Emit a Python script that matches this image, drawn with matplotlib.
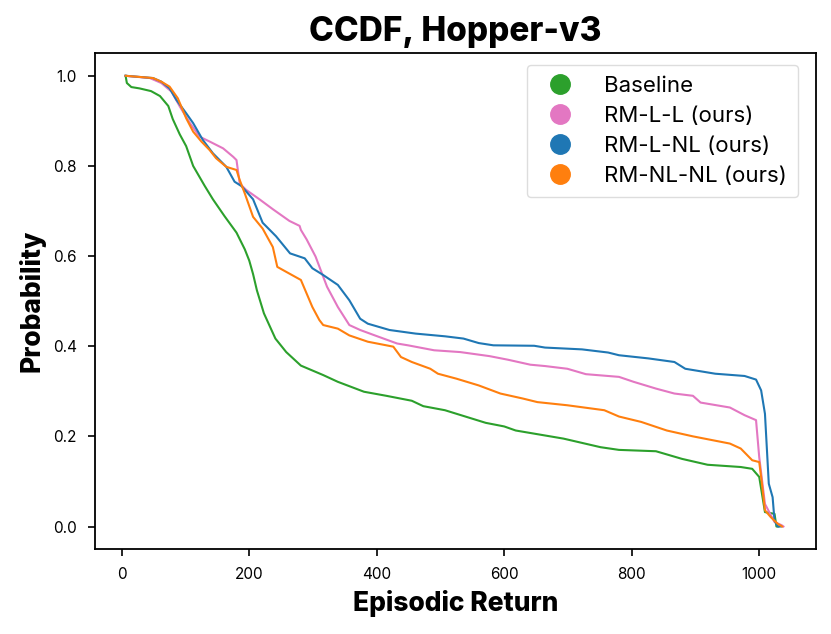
import matplotlib
matplotlib.use('Agg')
import matplotlib.pyplot as plt
from matplotlib.lines import Line2D

# CCDF points (episodic return, probability)
base_x = [6, 8, 15, 28, 46, 60, 73, 80, 91, 101, 112, 130, 143, 161, 180, 193, 200, 206,
          212, 223, 241, 258, 281, 316, 339, 380, 415, 455, 473, 507, 571, 600, 618, 693,
          751, 780, 838, 879, 919, 971, 989, 1000, 1009, 1024, 1027, 1030]
base_y = [1.0, 0.984, 0.975, 0.972, 0.966, 0.955, 0.933, 0.904, 0.87, 0.844, 0.8, 0.756,
          0.726, 0.689, 0.652, 0.615, 0.59, 0.56, 0.524, 0.473, 0.417, 0.387, 0.357, 0.336,
          0.321, 0.299, 0.29, 0.279, 0.267, 0.258, 0.23, 0.222, 0.213, 0.195, 0.176, 0.17,
          0.167, 0.15, 0.137, 0.132, 0.128, 0.11, 0.032, 0.028, 0.0, 0.0]

rmll_x = [6, 44, 62, 78, 91, 107, 122, 138, 159, 175, 180, 185, 195, 216, 237, 263, 279,
          281, 290, 304, 322, 339, 357, 374, 397, 432, 449, 490, 531, 577, 606, 641, 664,
          699, 728, 780, 803, 838, 867, 896, 908, 954, 977, 995, 1000, 1009, 1024, 1035, 1038]
rmll_y = [1.0, 0.995, 0.984, 0.965, 0.932, 0.895, 0.865, 0.854, 0.839, 0.82, 0.813, 0.761,
          0.747, 0.726, 0.704, 0.678, 0.667, 0.658, 0.637, 0.599, 0.532, 0.487, 0.447,
          0.436, 0.424, 0.406, 0.402, 0.391, 0.387, 0.378, 0.37, 0.359, 0.356, 0.35, 0.338,
          0.332, 0.321, 0.306, 0.295, 0.29, 0.275, 0.264, 0.247, 0.236, 0.154, 0.05, 0.01,
          0.003, 0.0]

rmlnl_x = [6, 49, 62, 75, 86, 101, 112, 127, 143, 164, 177, 188, 206, 221, 242, 264, 287,
           299, 316, 339, 357, 374, 386, 420, 461, 507, 536, 560, 583, 647, 664, 722, 763,
           780, 826, 867, 884, 931, 977, 995, 1003, 1009, 1015, 1021, 1024, 1029, 1034]
rmlnl_y = [1.0, 0.995, 0.987, 0.972, 0.946, 0.917, 0.895, 0.858, 0.828, 0.798, 0.765,
           0.755, 0.726, 0.674, 0.644, 0.606, 0.595, 0.573, 0.558, 0.536, 0.502, 0.461,
           0.45, 0.436, 0.428, 0.422, 0.417, 0.407, 0.402, 0.401, 0.397, 0.393, 0.386,
           0.38, 0.373, 0.365, 0.35, 0.339, 0.334, 0.326, 0.302, 0.25, 0.095, 0.065, 0.013,
           0.0, 0.0]

rmnlnl_x = [6, 49, 62, 75, 88, 101, 112, 125, 138, 148, 164, 180, 185, 193, 206, 221, 237,
            244, 258, 281, 299, 310, 316, 339, 357, 386, 426, 438, 455, 484, 496, 525, 560,
            594, 629, 652, 699, 757, 780, 815, 855, 896, 954, 971, 989, 1000, 1003, 1009,
            1018, 1029, 1036]
rmnlnl_y = [1.0, 0.995, 0.987, 0.976, 0.95, 0.906, 0.876, 0.854, 0.835, 0.817, 0.798,
            0.791, 0.769, 0.739, 0.687, 0.661, 0.62, 0.576, 0.565, 0.547, 0.487, 0.458,
            0.447, 0.439, 0.424, 0.41, 0.399, 0.376, 0.365, 0.35, 0.339, 0.328, 0.313,
            0.295, 0.284, 0.276, 0.269, 0.258, 0.244, 0.232, 0.213, 0.2, 0.184, 0.173,
            0.147, 0.143, 0.11, 0.036, 0.021, 0.006, 0.0]

labels = ['Baseline', 'RM-L-L (ours)', 'RM-L-NL (ours)', 'RM-NL-NL (ours)']
colors = ['#2ca02c', '#e377c2', '#1f77b4', '#ff7f0e']

plt.rcParams['font.family'] = ['Inter', 'DejaVu Sans']

fig = plt.figure(figsize=(8.31, 6.34), dpi=100)
ax = fig.add_axes((0.1143, 0.134, 0.8676, 0.782))

series = [(base_x, base_y), (rmll_x, rmll_y), (rmlnl_x, rmlnl_y), (rmnlnl_x, rmnlnl_y)]
for (xs, ys), c in zip(series, colors):
    ax.plot(xs, ys, color=c, lw=1.5)

ax.set_ylim(-0.05, 1.05)
ax.set_xlim(-42, 1089)
ax.set_xticks([0, 200, 400, 600, 800, 1000])
ax.set_yticks([0.0, 0.2, 0.4, 0.6, 0.8, 1.0])
ax.tick_params(labelsize=11, length=5, width=1.2, pad=8)
for s in ax.spines.values():
    s.set_linewidth(1.3)

ax.set_title('CCDF, Hopper-v3', fontsize=24, fontweight='heavy', pad=9)
ax.set_xlabel('Episodic Return', fontsize=19, fontweight='heavy', labelpad=6)
ax.set_ylabel('Probability', fontsize=19, fontweight='heavy', labelpad=5)

handles = [Line2D([], [], ls='none', marker='o', ms=14, color=c) for c in colors]
leg = ax.legend(handles, labels, loc='upper right', fontsize=16, handletextpad=1.0,
                labelspacing=0.45, borderpad=0.5, borderaxespad=0.3, framealpha=1,
                fancybox=True, bbox_to_anchor=(0.985, 0.99))
leg.get_frame().set_edgecolor('#dddddd')

fig.savefig('out.png', dpi=100)
